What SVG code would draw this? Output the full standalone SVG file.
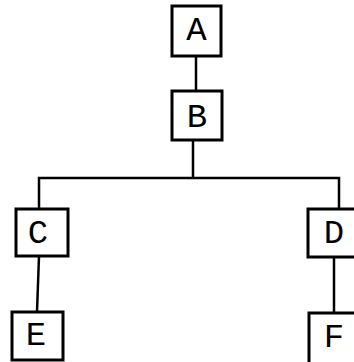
<svg xmlns="http://www.w3.org/2000/svg" width="354" height="362" viewBox="0 0 354 362">
  <style>
    .box { fill: #fff; stroke: #000; stroke-width: 3; }
    .wire { fill: none; stroke: #000; stroke-width: 2.5; }
    .lbl { font-family: "Liberation Mono", "DejaVu Sans Mono", monospace; font-size: 34px; fill: #000; text-anchor: middle; }
  </style>
  <rect width="354" height="362" fill="#fff"/>

  <!-- tree edges -->
  <g id="connectors">
    <line class="wire" x1="196" y1="56" x2="196" y2="91"/>
    <line class="wire" x1="193" y1="140" x2="193" y2="178"/>
    <polyline class="wire" points="39,209 39,178 339,178 339,209"/>
    <line class="wire" x1="39" y1="256" x2="37" y2="312"/>
    <line class="wire" x1="334" y1="257" x2="334" y2="313"/>
  </g>

  <g id="node-A">
    <rect class="box" x="172" y="6" width="49" height="50"/>
    <text class="lbl" x="196.5" y="40">A</text>
  </g>
  <g id="node-B">
    <rect class="box" x="172" y="91" width="50" height="49"/>
    <text class="lbl" x="197" y="127">B</text>
  </g>
  <g id="node-C">
    <rect class="box" x="16" y="209" width="52" height="47"/>
    <text class="lbl" x="38" y="243">C</text>
  </g>
  <g id="node-D">
    <rect class="box" x="308" y="209" width="60" height="48"/>
    <text class="lbl" x="334" y="243">D</text>
  </g>
  <g id="node-E">
    <rect class="box" x="12" y="312" width="51" height="48"/>
    <text class="lbl" x="36" y="345">E</text>
  </g>
  <g id="node-F">
    <rect class="box" x="309" y="313" width="60" height="60"/>
    <text class="lbl" x="334" y="347">F</text>
  </g>
</svg>
